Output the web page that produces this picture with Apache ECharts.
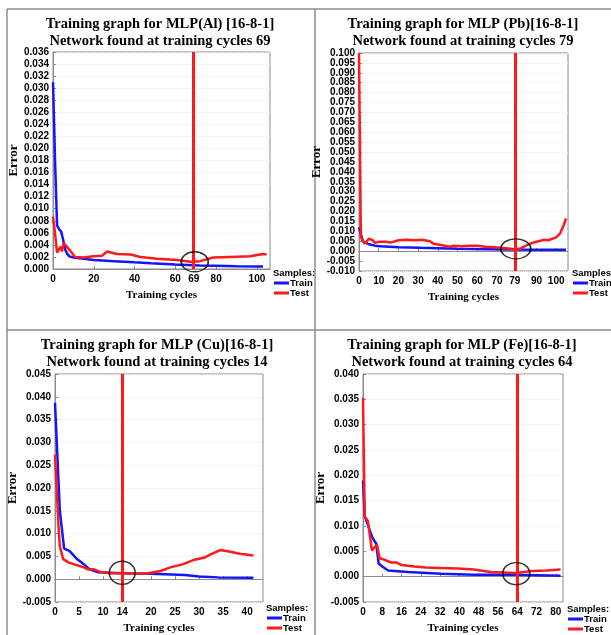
<!DOCTYPE html>
<html lang="en">
<head>
	<meta charset="UTF-8">
	<title>Training graphs MLP [16-8-1]</title>
	<script src="https://cdn.jsdelivr.net/npm/echarts@6.0.0/dist/echarts.min.js"></script>
	<style>
		html, body { margin: 0; padding: 0; background: #fff; }
		#main { width: 611px; height: 635px; }
	</style>
</head>
<body>
	<div id="main"></div>
	<script>
		// ---- data: [cycle, error] ----
		var alTrain = [[0,0.031],[1,0.018],[2,0.0072],[3,0.0066],[4,0.0062],[5,0.0048],[6,0.0032],[7,0.0025],[8,0.0021],[10,0.0019],[15,0.0017],[20,0.0015],[30,0.0013],[40,0.0011],[48,0.00095],[60,0.00075],[72,0.0006],[80,0.00055],[90,0.00045],[103,0.0004]];
		var alTest = [[0,0.0087],[0.9,0.0062],[2,0.0027],[2.8,0.0026],[3.7,0.0037],[4.4,0.0029],[5.2,0.0043],[6,0.0043],[8.3,0.0031],[10.8,0.002],[15,0.0019],[19.8,0.0021],[24,0.0022],[26.5,0.0029],[31.4,0.0025],[38,0.0024],[42.9,0.002],[51,0.0017],[60.8,0.0015],[67.4,0.0012],[72,0.0013],[78.6,0.0019],[86.8,0.002],[96.6,0.0021],[103,0.0025],[104.7,0.0024]];
		var alTicks = [0,20,40,60,69,80,100];
		var alBest = 69;
		var alMark = [69.5, 0.0012];

		var pbTrain = [[0,0.012],[0.9,0.0115],[2,0.005],[3,0.0042],[5,0.0035],[8,0.0028],[11,0.0025],[20,0.002],[31.5,0.0017],[40,0.0015],[50,0.0012],[65,0.001],[79,0.0008],[90,0.0007],[105,0.0007]];
		var pbTest = [[0,0.1],[0.8,0.02],[1,0.007],[2,0.0052],[3,0.0038],[4,0.0048],[5,0.0063],[6,0.0063],[7,0.0055],[8,0.0042],[9,0.0038],[10,0.0047],[14,0.0048],[16,0.0043],[20,0.0055],[24,0.0058],[28,0.0055],[32,0.0058],[36,0.005],[38,0.0037],[42,0.003],[46,0.0022],[48,0.0027],[52,0.0025],[56,0.0027],[60,0.0027],[64,0.0022],[68,0.002],[72,0.0017],[76,0.0014],[79,0.0009],[82,0.0014],[86,0.0035],[90,0.0048],[94,0.0058],[96,0.0055],[100,0.007],[102,0.009],[104,0.0135],[105,0.0165]];
		var pbTicks = [0,10,20,30,40,50,60,70,79,90,100];
		var pbBest = 79;
		var pbMark = [79.5, 0.0012];

		var cuTrain = [[0,0.0387],[1,0.0151],[1.9,0.0067],[3,0.0062],[4.5,0.0045],[6,0.0033],[7,0.0023],[9,0.0015],[14,0.0013],[20,0.0012],[27,0.0009],[30,0.0006],[34,0.0004],[41.3,0.0003]];
		var cuTest = [[0,0.0273],[0.7,0.0122],[1,0.0072],[1.7,0.0044],[2.8,0.0037],[4.5,0.0031],[6,0.0026],[7,0.0021],[8,0.0022],[9.4,0.0016],[11.5,0.0013],[15,0.0013],[18.4,0.0012],[20,0.0014],[22,0.0018],[24,0.0026],[26.7,0.0033],[28.8,0.0042],[31,0.0047],[32.3,0.0054],[34.4,0.0064],[36.5,0.006],[38.5,0.0056],[41.3,0.0052]];
		var cuTicks = [0,5,10,14,20,25,30,35,40];
		var cuBest = 14;
		var cuMark = [14, 0.0014];

		var feTrain = [[0,0.019],[0.7,0.012],[2.6,0.0094],[4,0.0076],[5.5,0.0065],[6.5,0.0026],[8,0.002],[10.4,0.0012],[18.7,0.0009],[32.5,0.0006],[46,0.0004],[63,0.0004],[82,0.0002]];
		var feTest = [[0,0.0353],[0.7,0.0119],[2,0.011],[3.7,0.0052],[4.8,0.0058],[5.8,0.0063],[6.9,0.0036],[8,0.0035],[11.7,0.0028],[13.8,0.0028],[16,0.0023],[21.4,0.002],[26,0.0018],[32.5,0.0017],[39.4,0.0016],[46,0.0014],[53,0.0009],[58,0.0008],[63,0.0007],[70,0.0011],[76,0.0012],[82,0.0014]];
		var feTicks = [0,8,16,24,32,40,48,56,64,72,80];
		var feBest = 64;
		var feMark = [63.6, 0.0006];

		var BLUE = '#1414ff', RED = '#ff1a1a', FRAME = '#8c8c8c';
		var serif = "'Liberation Serif', 'Times New Roman', serif";
		var sans = "'Liberation Sans', Arial, sans-serif";

		// one entry per panel: grid box, axis ranges, texts
		var panels = [
			{ title: 'Training graph for MLP(Al) [16-8-1]\nNetwork found at training cycles 69', cx: 160, ty: 16,
			  grid: [53, 52, 217, 217], xMax: 106.4, yMin: 0, yMax: 0.036, yStep: 0.002,
			  train: alTrain, test: alTest, ticks: alTicks, best: alBest, mark: alMark, markSize: [27, 20],
			  nameGap: 32, lx: 274, ly: 268 },
			{ title: 'Training graph for MLP (Pb)[16-8-1]\nNetwork found at training cycles 79', cx: 463, ty: 16,
			  grid: [359, 53, 209, 218], xMax: 106, yMin: -0.01, yMax: 0.1, yStep: 0.005,
			  train: pbTrain, test: pbTest, ticks: pbTicks, best: pbBest, mark: pbMark, markSize: [30, 20],
			  nameGap: 31, lx: 573, ly: 268 },
			{ title: 'Training graph for MLP (Cu)[16-8-1]\nNetwork found at training cycles 14', cx: 157, ty: 337,
			  grid: [55, 374, 208, 233], xMax: 43.3, yMin: -0.005, yMax: 0.045, yStep: 0.005,
			  train: cuTrain, test: cuTest, ticks: cuTicks, best: cuBest, mark: cuMark, markSize: [26, 23],
			  nameGap: 34, lx: 267, ly: 603 },
			{ title: 'Training graph for MLP (Fe)[16-8-1]\nNetwork found at training cycles 64', cx: 462, ty: 337,
			  grid: [363, 374, 200, 234], xMax: 83, yMin: -0.005, yMax: 0.04, yStep: 0.005,
			  train: feTrain, test: feTest, ticks: feTicks, best: feBest, mark: feMark, markSize: [27, 22],
			  nameGap: 32, lx: 568, ly: 604 }
		];

		var option = {
			animation: false,
			backgroundColor: '#fff',
			title: [], grid: [], xAxis: [], yAxis: [], series: [], legend: [],
			graphic: [
				// panel frame lines
				{ type: 'line', shape: { x1: 7, y1: 9, x2: 611, y2: 9 }, style: { stroke: FRAME, lineWidth: 1.5 } },
				{ type: 'line', shape: { x1: 7, y1: 9, x2: 7, y2: 635 }, style: { stroke: FRAME, lineWidth: 1.5 } },
				{ type: 'line', shape: { x1: 315, y1: 9, x2: 315, y2: 635 }, style: { stroke: FRAME, lineWidth: 1.5 } },
				{ type: 'line', shape: { x1: 7, y1: 330, x2: 611, y2: 330 }, style: { stroke: FRAME, lineWidth: 1.5 } }
			]
		};

		panels.forEach(function(p, i){
			option.title.push({
				text: p.title, left: p.cx, top: p.ty, textAlign: 'center', padding: 0,
				textStyle: { fontFamily: serif, fontWeight: 'bold', fontSize: 14.5, lineHeight: 17, color: '#000' }
			});
			option.grid.push({
				left: p.grid[0], top: p.grid[1], width: p.grid[2], height: p.grid[3],
				show: true, borderColor: FRAME, borderWidth: 1, backgroundColor: '#fff'
			});
			option.xAxis.push({
				type: 'value', gridIndex: i, min: 0, max: p.xMax,
				name: 'Training cycles', nameLocation: 'middle', nameGap: 21,
				nameTextStyle: { fontFamily: serif, fontWeight: 'bold', fontSize: 11, color: '#000' },
				axisLine: { show: true, lineStyle: { color: FRAME } },
				axisTick: { show: true, inside: true, length: 3, customValues: p.ticks, lineStyle: { color: FRAME } },
				axisLabel: { customValues: p.ticks, margin: 5, fontFamily: sans, fontWeight: 'bold', fontSize: 10, color: '#000' },
				splitLine: { show: false }
			});
			option.yAxis.push({
				type: 'value', gridIndex: i, min: p.yMin, max: p.yMax, interval: p.yStep,
				name: 'Error', nameLocation: 'middle', nameRotate: 90, nameGap: p.nameGap,
				nameTextStyle: { fontFamily: serif, fontWeight: 'bold', fontSize: 13, color: '#000' },
				axisLine: { show: true, lineStyle: { color: FRAME } },
				axisTick: { show: true, inside: true, length: 3, lineStyle: { color: FRAME } },
				axisLabel: { margin: 4, fontFamily: sans, fontWeight: 'bold', fontSize: 10, color: '#000',
					formatter: function(v){ return v.toFixed(3); } },
				splitLine: { show: true, lineStyle: { color: '#ececec', type: 'dotted' } }
			});
			option.series.push({
				name: 'Train', type: 'line', xAxisIndex: i, yAxisIndex: i, data: p.train,
				color: BLUE, showSymbol: false, lineStyle: { width: 2.5, color: BLUE }, z: 3
			});
			option.series.push({
				name: 'Test', type: 'line', xAxisIndex: i, yAxisIndex: i, data: p.test,
				color: RED, showSymbol: false, lineStyle: { width: 2.5, color: RED }, z: 4,
				markLine: {
					silent: true, symbol: 'none', label: { show: false },
					lineStyle: { color: RED, width: 3, type: 'solid' },
					data: [{ xAxis: p.best }]
				}
			});
			// black ellipse round the chosen cycle
			option.series.push({
				name: 'best' + i, type: 'scatter', xAxisIndex: i, yAxisIndex: i, data: [p.mark],
				symbol: 'circle', symbolSize: p.markSize, silent: true, z: 6,
				itemStyle: { color: 'rgba(0,0,0,0)', borderColor: '#000', borderWidth: 1.5 }
			});
			option.legend.push({
				data: ['Train', 'Test'], orient: 'vertical', left: p.lx, top: p.ly + 10,
				icon: 'rect', itemWidth: 15, itemHeight: 3, itemGap: 0, padding: 0, selectedMode: false,
				textStyle: { fontFamily: sans, fontWeight: 'bold', fontSize: 9.5, color: '#000', padding: [0, 0, 0, -4] }
			});
			option.graphic.push({
				type: 'text', left: p.lx - 1, top: p.ly,
				style: { text: 'Samples:', font: 'bold 9.5px ' + sans, fill: '#000' }
			});
		});

		var chart = echarts.init(document.getElementById('main'), null, { renderer: 'canvas' });
		chart.setOption(option);
	</script>
</body>
</html>
